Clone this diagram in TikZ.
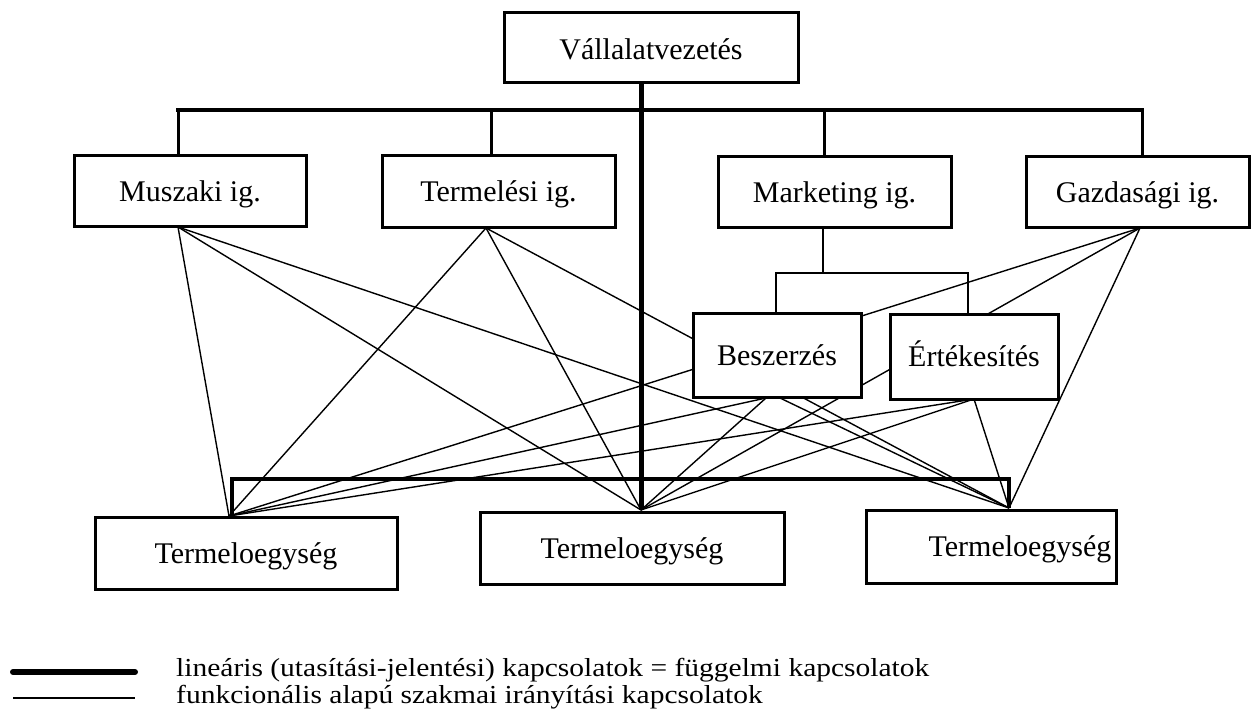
\documentclass[tikz,border=0pt]{standalone}
\usepackage{fontspec}
\setmainfont{Liberation Serif}
\pgfdeclarelayer{background}
\pgfsetlayers{background,main}
\begin{document}
\begin{tikzpicture}[x=1pt,y=-1pt,
  box/.style={draw,line width=3pt,fill=white,inner sep=0pt,
    font=\fontsize{30}{36}\selectfont,text height=20pt,text depth=0pt},
  legendtext/.style={anchor=base west,inner sep=0pt,font=\fontsize{29.5}{34}\selectfont},
  func/.style={line width=1.4pt},
  trunk/.style={line width=5pt},
  bus/.style={line width=4pt,line cap=rect},
  drop/.style={line width=3pt},
  sub/.style={line width=2.7pt,line join=miter},
  bar/.style={line width=4.5pt,line join=miter}]
\useasboundingbox (0,0) rectangle (1253,714);

% boxes
\node[box,minimum width=294pt,minimum height=70pt,text height=24pt] (vall) at (651,48) {Vállalatvezetés};
\node[box,minimum width=232pt,minimum height=71pt] (musz) at (190,191.5) {Muszaki ig.};
\node[box,minimum width=233pt,minimum height=72pt] (term) at (498.5,192) {Termelési ig.};
\node[box,minimum width=233pt,minimum height=71pt] (mark) at (834.5,192.5) {Marketing ig.};
\node[box,minimum width=223pt,minimum height=71pt] (gazd) at (1137.5,192.5) {Gazdasági ig.};
\node[box,minimum width=168pt,minimum height=84pt] (besz) at (777,355) {Beszerzés};
\node[box,minimum width=168pt,minimum height=85pt] (ert) at (974,356.5) {Értékesítés};
\node[box,minimum width=302pt,minimum height=72pt] (te1) at (246,553) {Termeloegység};
\node[box,minimum width=304pt,minimum height=72pt] (te2) at (632,548) {Termeloegység};
\node[box,minimum width=250pt,minimum height=73pt] (te3) at (991,546.5) {\hspace*{58pt}Termeloegység};

% connection points
\coordinate (mu) at (178,227);
\coordinate (te) at (486,228);
\coordinate (ga) at (1140,228);
\coordinate (b1) at (766,398);
\coordinate (b2) at (780,398);
\coordinate (er) at (974,399);
\coordinate (t1) at (229,516);
\coordinate (t2) at (641,510);
\coordinate (t3) at (1009,508);

\coordinate (bm) at (178,110);
\coordinate (bt) at (491,110);
\coordinate (bk) at (824,110);
\coordinate (bg) at (1142,110);
\coordinate (mk) at (823,273);
\coordinate (mbl) at (776,273);
\coordinate (mbr) at (968,273);
\coordinate (bbl) at (232,479);
\coordinate (bbr) at (1009,479);

\begin{pgfonlayer}{background}
  \fill[white] (0,0) rectangle (1253,714);
  % functional links
  \draw[func] (mu) -- (t1);
  \draw[func] (mu) -- (t2);
  \draw[func] (mu) -- (t3);
  \draw[func] (te) -- (t1);
  \draw[func] (te) -- (t2);
  \draw[func] (te) -- (t3);
  \draw[func] (ga) -- (t1);
  \draw[func] (ga) -- (t2);
  \draw[func] (ga) -- (t3);
  \draw[func] (b1) -- (t1);
  \draw[func] (b1) -- (t2);
  \draw[func] (b2) -- (t3);
  \draw[func] (er) -- (t1);
  \draw[func] (er) -- (t2);
  \draw[func] (er) -- (t3);
  % line of command
  \draw[trunk] (t2 |- vall.south) -- (t2);
  \draw[bus] (bm) -- (bg);
  \draw[drop] (bm) -- (bm |- musz.north);
  \draw[drop] (bt) -- (bt |- term.north);
  \draw[drop] (bk) -- (bk |- mark.north);
  \draw[drop] (bg) -- (bg |- gazd.north);
  \draw[sub] (mk |- mark.south) -- (mk);
  \draw[sub] (mbl |- besz.north) -- (mbl) -- (mbr) -- (mbr |- ert.north);
  \draw[bar] (bbl |- te1.north) -- (bbl) -- (bbr) -- (t3);
\end{pgfonlayer}

% legend
\coordinate (la1) at (13,672);
\coordinate (la2) at (135,672);
\coordinate (lb1) at (13,698);
\coordinate (lb2) at (135,698);
\draw[line width=6pt,line cap=round] (la1) -- (la2);
\draw[line width=1.5pt] (lb1) -- (lb2);
\node[legendtext] (leg1) at (176,676) {\scalebox{1}[0.88]{lineáris (utasítási-jelentési) kapcsolatok = függelmi kapcsolatok}};
\node[legendtext] (leg2) at (176,703) {\scalebox{1}[0.88]{funkcionális alapú szakmai irányítási kapcsolatok}};
\end{tikzpicture}
\end{document}
